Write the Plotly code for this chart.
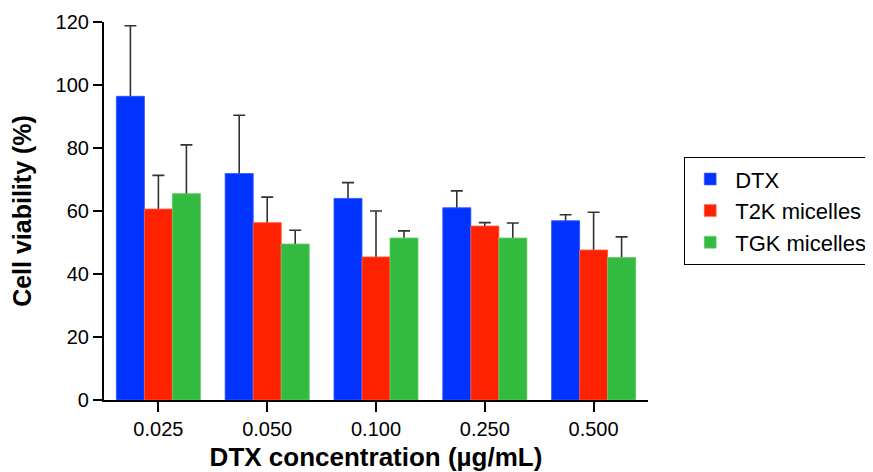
import plotly.graph_objects as go

categories = ["0.025", "0.050", "0.100", "0.250", "0.500"]
series_names = ["DTX", "T2K micelles", "TGK micelles"]
dtx = [96.4, 71.9, 64.0, 61.0, 56.9]
dtx_err = [22.4, 18.5, 5.0, 5.4, 1.9]
t2k = [60.6, 56.3, 45.4, 55.2, 47.6]
t2k_err = [10.7, 8.1, 14.6, 1.1, 12.0]
tgk = [65.5, 49.5, 51.4, 51.4, 45.2]
tgk_err = [15.5, 4.4, 2.3, 4.8, 6.6]
y_ticks = [0, 20, 40, 60, 80, 100, 120]

colors = ["rgb(0,51,255)", "rgb(255,34,0)", "rgb(51,187,63)"]
edge = ["rgb(80,110,255)", "rgb(255,110,90)", "rgb(120,210,120)"]

W, H = 865, 464  # page body has an 8px margin

fig = go.Figure()
series = list(zip(series_names, [dtx, t2k, tgk], [dtx_err, t2k_err, tgk_err], colors, edge))
# bars with (symmetric) error bars; lower half gets covered by the overlay bars below
for i, (name, vals, errs, c, e) in enumerate(series):
    fig.add_trace(go.Bar(
        name=name, x=categories, y=vals, offsetgroup=str(i), legendrank=i,
        marker=dict(color=c, line=dict(color=e, width=0.6)),
        error_y=dict(type="data", array=errs, symmetric=True,
                     color="rgb(50,50,50)", thickness=1.6, width=6),
        showlegend=True,
    ))
for i, (name, vals, errs, c, e) in enumerate(series):
    fig.add_trace(go.Bar(
        name=name, x=categories, y=vals, offsetgroup=str(i),
        marker=dict(color=c, line=dict(color=e, width=0.6)),
        showlegend=False, hoverinfo="skip",
    ))

fig.update_layout(
    width=W, height=H,
    margin=dict(l=96, r=225, t=13.5, b=72, autoexpand=False),
    paper_bgcolor="white", plot_bgcolor="white",
    barmode="group", bargap=0.228, bargroupgap=0,
    font=dict(family="Liberation Sans, Arial, sans-serif", size=20, color="black"),
    legend=dict(
        x=676 / W, xanchor="left", y=1 - 149 / H, yanchor="top",
        xref="container", yref="container",
        bordercolor="black", borderwidth=1.2,
        font=dict(size=22), itemwidth=40, tracegroupgap=0,
        entrywidth=205, entrywidthmode="pixels",
    ),
    showlegend=True,
)

fig.update_xaxes(
    type="category", range=[-0.5, 4.5],
    showline=True, linecolor="black", linewidth=2.2,
    ticks="outside", ticklen=10, tickwidth=2.2, tickcolor="black",
    tickfont=dict(size=20),
    title=dict(text="<b>DTX concentration (µg/mL)</b>", font=dict(size=26), standoff=11),
    showgrid=False, zeroline=False,
)
fig.update_yaxes(
    range=[0, 120], tickvals=y_ticks,
    showline=True, linecolor="black", linewidth=2.2,
    ticks="outside", ticklen=9, tickwidth=2.2, tickcolor="black",
    tickfont=dict(size=20),
    title=dict(text="<b>Cell viability (%)</b>", font=dict(size=25), standoff=17),
    showgrid=False, zeroline=False,
)

fig.write_html("out.html")
